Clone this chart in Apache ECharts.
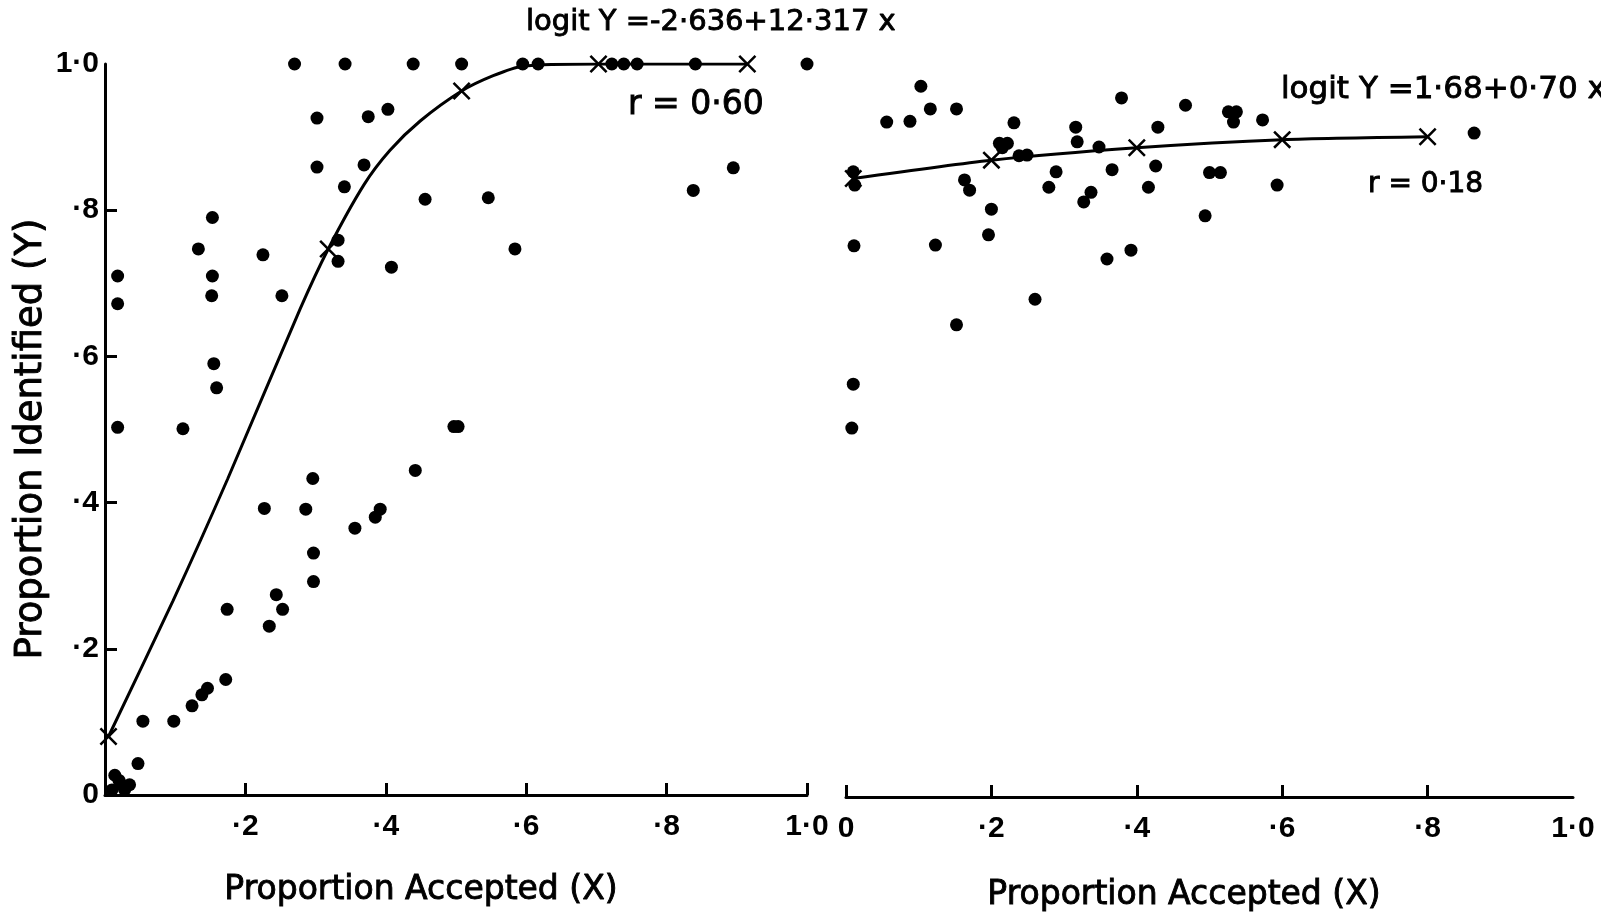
<!DOCTYPE html>
<html>
<head>
<meta charset="utf-8">
<script src="https://cdn.jsdelivr.net/npm/echarts@6/dist/echarts.min.js"></script>
<style>
html,body{margin:0;padding:0;background:#fff;}
#chart{width:1601px;height:916px;}
</style>
</head>
<body>
<div id="chart"></div>
<script>
// ---- Left panel data (proportion accepted X, proportion identified Y) ----
const leftX = [0.27,0.342,0.439,0.508,0.595,0.617,0.722,0.739,0.758,0.841,1.0,
  0.302,0.375,0.403,0.302,0.369,0.341,0.153,0.133,0.225,0.332,0.332,0.408,0.153,0.152,0.252,
  0.018,0.018,0.155,0.159,0.111,0.018,0.296,0.227,0.286,0.392,0.385,0.356,0.297,0.297,0.244,
  0.253,0.174,0.234,0.442,0.497,0.503,0.456,0.546,0.584,0.895,0.838,0.172,0.146,0.138,0.124,
  0.098,0.054,0.047,0.014,0.024,0.035,0.01,0.028,0.02];
const leftY = [1.0,1.0,1.0,1.0,1.0,1.0,1.0,1.0,1.0,1.0,1.0,
  0.926,0.928,0.938,0.859,0.862,0.832,0.790,0.747,0.739,0.759,0.730,0.722,0.710,0.683,0.683,
  0.71,0.672,0.590,0.557,0.501,0.503,0.433,0.392,0.391,0.391,0.38,0.365,0.331,0.292,0.274,
  0.254,0.254,0.231,0.444,0.504,0.504,0.815,0.817,0.747,0.858,0.827,0.158,0.146,0.137,0.122,
  0.101,0.101,0.043,0.027,0.014,0.014,0.007,0.007,0.02];
// fitted curve as drawn (logit Y = -2.636 + 12.317 x)
const leftFitX = [0.005,0.097,0.175,0.278,0.318,0.369,0.406,0.449,0.508,0.553,0.595,0.703,0.915];
const leftFitY = [0.08,0.266,0.433,0.665,0.747,0.835,0.882,0.922,0.963,0.984,0.997,1.0,1.0];
const leftMarkX = [0.005,0.318,0.508,0.703,0.915];
const leftMarkY = [0.08,0.747,0.963,1.0,1.0];

// ---- Right panel data ----
const rightX = [0.103,0.056,0.088,0.116,0.152,0.231,0.379,0.467,0.316,0.429,0.211,0.222,0.215,
  0.238,0.249,0.318,0.348,0.01,0.012,0.163,0.170,0.289,0.366,0.426,0.279,0.337,0.327,0.416,
  0.500,0.515,0.494,0.200,0.196,0.011,0.123,0.359,0.392,0.260,0.152,0.526,0.537,0.533,0.573,
  0.864,0.593,0.01,0.008];
const rightY = [0.971,0.922,0.923,0.940,0.940,0.921,0.955,0.945,0.915,0.915,0.893,0.893,0.887,
  0.876,0.877,0.895,0.888,0.854,0.836,0.843,0.829,0.854,0.857,0.862,0.833,0.826,0.813,0.833,
  0.853,0.853,0.794,0.803,0.768,0.753,0.754,0.735,0.747,0.680,0.645,0.936,0.936,0.922,0.925,
  0.907,0.836,0.564,0.504];
// fitted line as drawn (logit Y = 1.68 + 0.70 x)
const rightFitX = [0.01,0.2,0.4,0.6,0.8];
const rightFitY = [0.845,0.870,0.887,0.898,0.902];

// ---- tick labels ----
const tickValues = [0,0.2,0.4,0.6,0.8,1.0];
const tickLabels = ['0','·2','·4','·6','·8','1·0'];

const FONT = '"DejaVu Sans", "Liberation Sans", sans-serif';
const TICKFONT = '"Liberation Sans", Arial, sans-serif';
const pair = (xs, ys) => xs.map((x,i)=>[x, ys[i]]);
const labelOf = v => { const i = tickValues.findIndex(t => Math.abs(t - v) < 1e-6); return i >= 0 ? tickLabels[i] : ''; };
const crossPath = 'path://M0,1 L1,0 L5,4 L9,0 L10,1 L6,5 L10,9 L9,10 L5,6 L1,10 L0,9 L4,5 Z';

const axisLine = {show:true, lineStyle:{color:'#000', width:3}};
const labelStyle = {color:'#000', fontFamily:TICKFONT, fontSize:30, fontWeight:'bold'};
const txt = (t, x, y, size, align, extra) => Object.assign({type:'text', x:x, y:y,
  style:{text:t, font:size+'px '+FONT, fill:'#000', stroke:'#000', lineWidth:0.9,
    textAlign:align, textVerticalAlign:'middle'}}, extra || {});

const chart = echarts.init(document.getElementById('chart'), null, {renderer:'canvas'});
chart.setOption({
  backgroundColor:'#fff',
  animation:false,
  grid:[
    {left:105, top:64, width:702, height:731},
    {left:846, top:65, width:727, height:732}
  ],
  xAxis:[
    {gridIndex:0, type:'value', min:0, max:1, interval:0.2,
     axisLine:axisLine, splitLine:{show:false},
     axisTick:{show:true, inside:true, length:12, lineStyle:{color:'#000', width:3}},
     axisLabel:Object.assign({margin:17, formatter:v => v === 0 ? '' : labelOf(v)}, labelStyle)},
    {gridIndex:1, type:'value', min:0, max:1, interval:0.2,
     axisLine:axisLine, splitLine:{show:false},
     axisTick:{show:true, inside:true, length:12, lineStyle:{color:'#000', width:3},
       customValues:[0,0.2,0.4,0.6,0.8]},
     axisLabel:Object.assign({margin:17, formatter:v => labelOf(v)}, labelStyle)}
  ],
  yAxis:[
    {gridIndex:0, type:'value', min:0, max:1, interval:0.2,
     axisLine:axisLine, splitLine:{show:false},
     axisTick:{show:true, inside:true, length:12, lineStyle:{color:'#000', width:3},
       customValues:[0.2,0.4,0.6,0.8]},
     axisLabel:Object.assign({margin:6, formatter:v => labelOf(v)}, labelStyle)},
    {gridIndex:1, type:'value', min:0, max:1, show:false}
  ],
  series:[
    {type:'line', xAxisIndex:0, yAxisIndex:0, data:pair(leftFitX,leftFitY), smooth:0.25,
     showSymbol:false, symbol:'none', lineStyle:{color:'#000', width:3}, z:2},
    {type:'scatter', xAxisIndex:0, yAxisIndex:0, data:pair(leftMarkX,leftMarkY),
     symbol:crossPath, symbolSize:18, itemStyle:{color:'#000', opacity:1}, z:3},
    {type:'scatter', xAxisIndex:0, yAxisIndex:0, data:pair(leftX,leftY),
     symbol:'circle', symbolSize:13, itemStyle:{color:'#000', opacity:1}, clip:false, z:4},
    {type:'line', xAxisIndex:1, yAxisIndex:1, data:pair(rightFitX,rightFitY), smooth:0.25,
     showSymbol:true, symbol:crossPath, symbolSize:18,
     itemStyle:{color:'#000', opacity:1}, lineStyle:{color:'#000', width:3}, z:2},
    {type:'scatter', xAxisIndex:1, yAxisIndex:1, data:pair(rightX,rightY),
     symbol:'circle', symbolSize:13, itemStyle:{color:'#000', opacity:1}, clip:false, z:4}
  ],
  graphic:[
    txt('logit Y =-2·636+12·317 x', 526, 22, 29, 'left'),
    txt('r = 0·60', 628, 105, 33, 'left'),
    txt('logit Y =1·68+0·70 x', 1281, 90, 31, 'left'),
    txt('r = 0·18', 1368, 185, 28, 'left'),
    txt('Proportion Accepted (X)', 421, 890, 33, 'center'),
    txt('Proportion Accepted (X)', 1184, 895, 33, 'center'),
    txt('Proportion Identified (Y)', 31, 439, 37, 'center', {rotation:Math.PI/2})
  ]
});
</script>
</body>
</html>
